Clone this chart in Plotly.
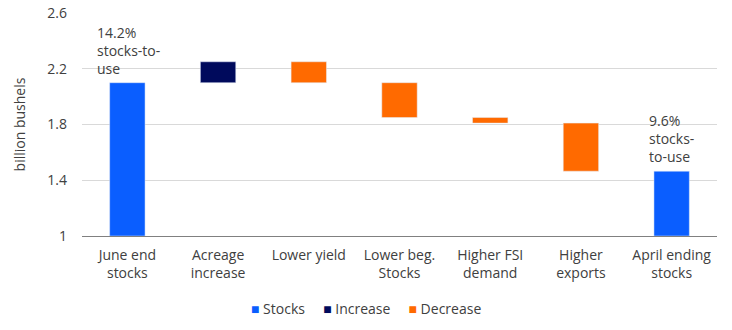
import plotly.graph_objects as go

categories = ["June end<br>stocks", "Acreage<br>increase", "Lower yield", "Lower beg.<br>Stocks",
              "Higher FSI<br>demand", "Higher<br>exports", "April ending<br>stocks"]
# change values (billion bushels); first and last are totals
start_stocks = 2.10
changes = [0.15, -0.15, -0.25, -0.04, -0.345]
end_stocks = 1.465
tick_vals = [1, 1.4, 1.8, 2.2, 2.6]
tick_text = ["1", "1.4", "1.8", "2.2", "2.6"]
notes = ["14.2%<br>stocks-to-<br>use", "9.6%<br>stocks-<br>to-use"]
series_names = ["Stocks", "Increase", "Decrease"]

BLUE = "#0A5EFF"
NAVY = "#000A5C"
ORANGE = "#FF6A00"
FONT = "Open Sans"
TXT = "#404040"

# build waterfall bases
inc_x, inc_y, inc_b = [], [], []
dec_x, dec_y, dec_b = [], [], []
level = start_stocks
for cat, ch in zip(categories[1:-1], changes):
    if ch >= 0:
        inc_x.append(cat); inc_y.append(ch); inc_b.append(level)
    else:
        dec_x.append(cat); dec_y.append(-ch); dec_b.append(level + ch)
    level += ch

fig = go.Figure()
fig.add_trace(go.Bar(name=series_names[0], x=[categories[0], categories[-1]],
                     y=[start_stocks - 1, end_stocks - 1], base=[1, 1],
                     marker_color=BLUE, width=0.39))
fig.add_trace(go.Bar(name=series_names[1], x=inc_x, y=inc_y, base=inc_b,
                     marker_color=NAVY, width=0.39))
fig.add_trace(go.Bar(name=series_names[2], x=dec_x, y=dec_y, base=dec_b,
                     marker_color=ORANGE, width=0.39))

fig.add_annotation(x=categories[0], y=start_stocks, text=notes[0], showarrow=False,
                   xanchor="left", yanchor="bottom", xshift=-32, yshift=3, align="left",
                   font=dict(family=FONT, size=14, color=TXT))
fig.add_annotation(x=categories[-1], y=end_stocks, text=notes[1], showarrow=False,
                   xanchor="left", yanchor="bottom", xshift=-25, yshift=3, align="left",
                   font=dict(family=FONT, size=14, color=TXT))

# compact legend row, drawn as text
sp = "&nbsp;" * 5
legend_text = sp.join(
    f'<span style="color:{c}">■</span> {n}'
    for c, n in zip([BLUE, NAVY, ORANGE], series_names)
)
fig.add_annotation(xref="paper", yref="paper", x=(366 - 82) / 635, y=-0.327,
                   text=legend_text, showarrow=False, xanchor="center", yanchor="middle",
                   font=dict(family=FONT, size=14, color=TXT))

fig.update_layout(
    width=732, height=330,
    margin=dict(l=82, r=15, t=13, b=94, autoexpand=False),
    barmode="overlay",
    plot_bgcolor="white", paper_bgcolor="white",
    font=dict(family=FONT, size=14, color=TXT),
    showlegend=False,
    xaxis=dict(categoryorder="array", categoryarray=categories, showgrid=False,
               showline=True, linecolor="#808080", linewidth=1, ticks="",
               ticklabelstandoff=6, automargin=False),
    yaxis=dict(range=[1, 2.6], tickvals=tick_vals, ticktext=tick_text,
               showgrid=True, gridcolor="#D9D9D9", zeroline=False,
               ticks="", ticklabelstandoff=14, automargin=False,
               title=dict(text="billion bushels", standoff=18, font=dict(size=14))),
)
fig.write_html("out.html")
